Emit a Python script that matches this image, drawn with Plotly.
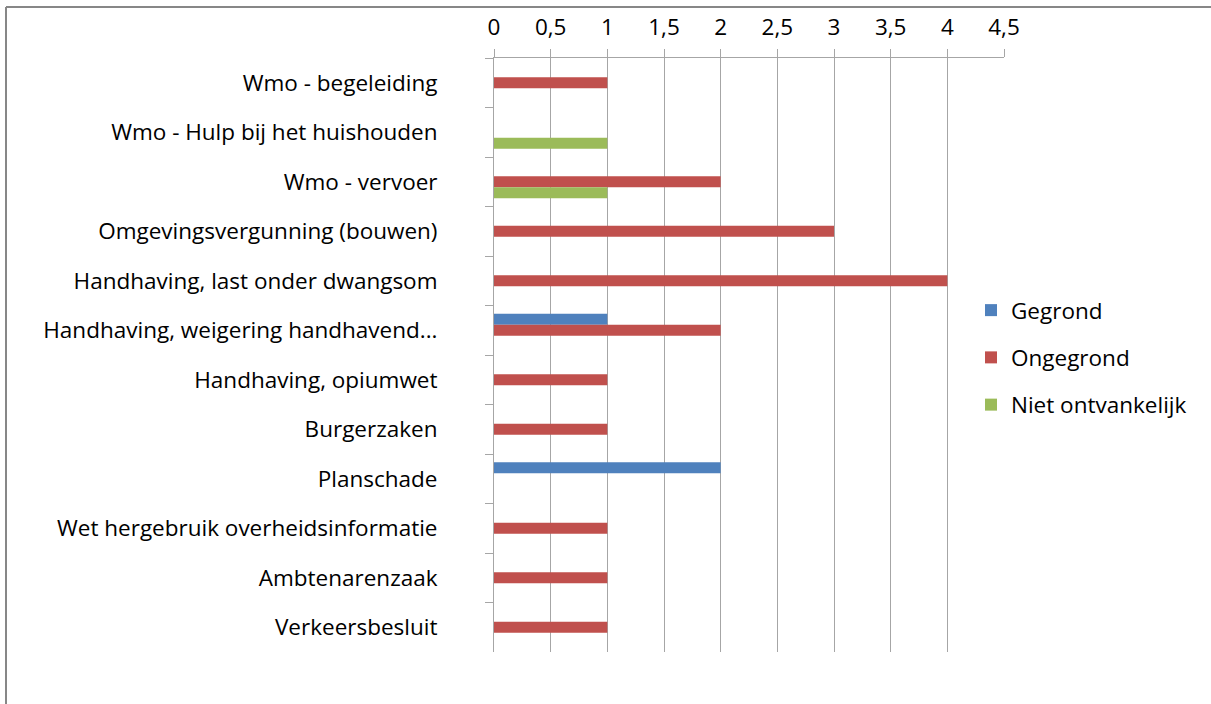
import plotly.graph_objects as go

categories = [
    "Wmo - begeleiding",
    "Wmo - Hulp bij het huishouden",
    "Wmo - vervoer",
    "Omgevingsvergunning (bouwen)",
    "Handhaving, last onder dwangsom",
    "Handhaving, weigering handhavend...",
    "Handhaving, opiumwet",
    "Burgerzaken",
    "Planschade",
    "Wet hergebruik overheidsinformatie",
    "Ambtenarenzaak",
    "Verkeersbesluit",
]
gegrond = [None, None, None, None, None, 1, None, None, 2, None, None, None]
ongegrond = [1, None, 2, 3, 4, 2, 1, 1, None, 1, 1, 1]
niet_ontvankelijk = [None, 1, 1, None, None, None, None, None, None, None, None, None]

series = [
    ("Gegrond", gegrond, "#4F81BD"),
    ("Ongegrond", ongegrond, "#C0504D"),
    ("Niet ontvankelijk", niet_ontvankelijk, "#9BBB59"),
]

FONT = "Open Sans"
FS = 22.5
fig = go.Figure()
for i, (name, vals, col) in enumerate(series):
    fig.add_trace(go.Bar(
        y=categories, x=vals, name=name, orientation="h",
        marker=dict(color=col, line=dict(width=0)),
        legendgroup=name,
    ))

W, H = 1211, 704
ml, mr, mt, mb = 494, 207, 58, 52
pw, ph = W - ml - mr, H - mt - mb

def px(x):
    return (x - ml) / pw

def py(y):
    return 1 - (y - mt) / ph

fig.update_layout(
    width=W, height=H,
    margin=dict(l=ml, r=mr, t=mt, b=mb),
    paper_bgcolor="white", plot_bgcolor="white",
    barmode="group", bargap=0.33, bargroupgap=0,
    separators=",.",
    font=dict(family=FONT, size=FS, color="#000000"),
    showlegend=True,
    legend=dict(
        x=px(971), y=py(289), xanchor="left", yanchor="top",
        bgcolor="rgba(0,0,0,0)", font=dict(size=FS, family=FONT),
        traceorder="grouped", tracegroupgap=15, itemwidth=30,
    ),
    xaxis=dict(
        side="top", range=[0, 4.5], dtick=0.5, tick0=0,
        showgrid=True, gridcolor="#A6A6A6", gridwidth=1,
        showline=True, linecolor="#A6A6A6", linewidth=1,
        ticks="outside", ticklen=8, tickcolor="#A6A6A6",
        ticklabelstandoff=5,
        tickfont=dict(size=FS, family=FONT), zeroline=False,
        fixedrange=True,
    ),
    yaxis=dict(
        autorange="reversed", type="category",
        showgrid=False, showline=True, linecolor="#A6A6A6", linewidth=1,
        ticks="outside", ticklen=8, tickcolor="#A6A6A6",
        tickson="boundaries", ticklabelstandoff=51,
        tickfont=dict(size=FS, family=FONT), fixedrange=True,
    ),
    shapes=[
        dict(type="line", xref="paper", yref="paper",
             x0=px(6), x1=px(6), y0=py(7), y1=py(720),
             line=dict(color="#878787", width=2)),
        dict(type="line", xref="paper", yref="paper",
             x0=px(6), x1=px(1230), y0=py(7), y1=py(7),
             line=dict(color="#878787", width=2)),
    ],
)

fig.write_html("out.html", config={"displayModeBar": False},
               post_script="document.body.style.margin='0';")
